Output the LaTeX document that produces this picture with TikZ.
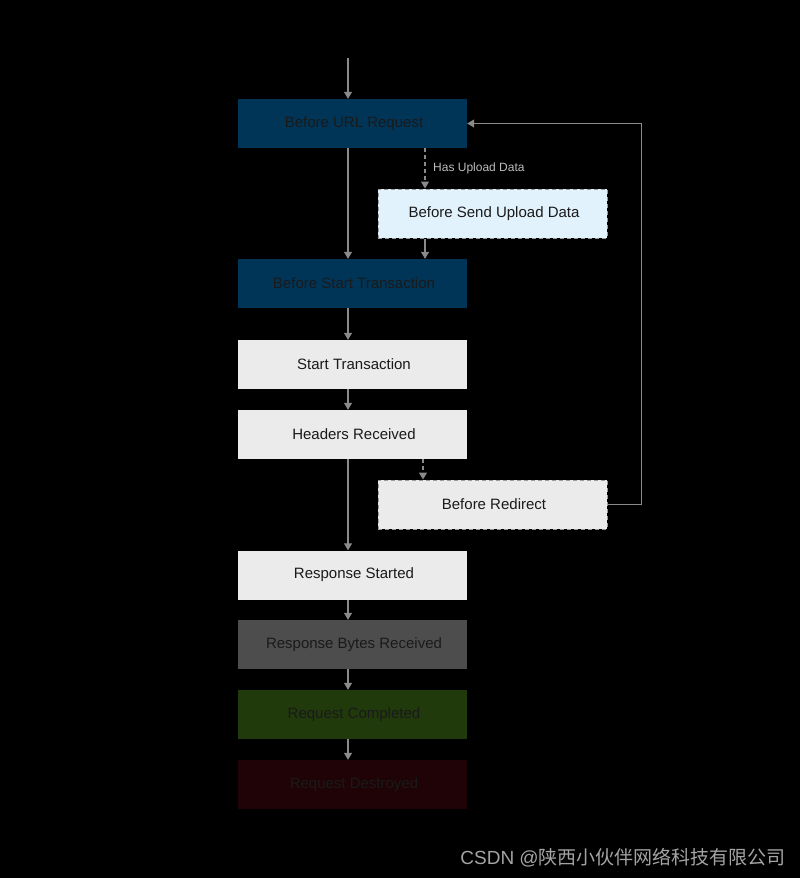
\documentclass[tikz,border=0pt]{standalone}
\usepackage{fontspec}
\setmainfont{Liberation Sans}
\newfontfamily\cjkfont{Noto Sans CJK SC}
\usetikzlibrary{arrows.meta}
\definecolor{dblue}{HTML}{003558}
\definecolor{lblue}{HTML}{E1F2FD}
\definecolor{lgray}{HTML}{EBEBEB}
\definecolor{mgray}{HTML}{4D4D4D}
\definecolor{dgreen}{HTML}{213A0C}
\definecolor{dred}{HTML}{1F0306}
\definecolor{txt}{HTML}{1A1A1A}
\definecolor{linec}{HTML}{8A8A8A}
\definecolor{dashc}{HTML}{9A9A9A}
\tikzset{
  box/.style={minimum width=229pt, minimum height=49pt, inner sep=0pt, text=txt, font=\fontsize{15}{17}\selectfont},
  dbox/.style={box, draw=dashc, dashed, line width=1pt, dash pattern=on 4pt off 3pt},
  arr/.style={draw=linec, line width=1.2pt, -{Triangle[width=8pt,length=7pt]}},
  lbl/.style={text=lgray!80!black, font=\fontsize{12}{14}\selectfont, inner sep=0pt},
}
\begin{document}
\begin{tikzpicture}[x=1pt,y=-1pt]
\fill[black] (0,0) rectangle (800,878);
\useasboundingbox (0,0) rectangle (800,878);
\coordinate (start) at (348,58);
\node[box, fill=dblue] (a) at (352.5,123.5) {\hspace{3pt}Before URL Request};
\node[dbox, fill=lblue] (s) at (492.5,213.5) {\hspace{3pt}Before Send Upload Data};
\node[box, fill=dblue] (b) at (352.5,283.5) {\hspace{3pt}Before Start Transaction};
\node[box, fill=lgray] (c) at (352.5,364.5) {\hspace{3pt}Start Transaction};
\node[box, fill=lgray] (d) at (352.5,434.5) {\hspace{3pt}Headers Received};
\node[dbox, fill=lgray] (r) at (492.5,504.5) {\hspace{3pt}Before Redirect};
\node[box, fill=lgray] (e) at (352.5,575) {\hspace{3pt}Response Started};
\node[box, fill=mgray] (f) at (352.5,644.5) {\hspace{3pt}Response Bytes Received};
\node[box, fill=dgreen] (g) at (352.5,714.5) {\hspace{3pt}Request Completed};
\node[box, fill=dred] (h) at (352.5,784.5) {\hspace{3pt}Request Destroyed};
\node[lbl, anchor=west] (l) at (433,168) {Has Upload Data};
\draw[arr] (start) -- ([xshift=-4.5pt]a.north);
\draw[arr] ([xshift=-4.5pt]a.south) -- ([xshift=-4.5pt]b.north);
\draw[arr, dashed, dash pattern=on 4pt off 3pt] ([xshift=72.5pt]a.south) -- ([xshift=-67.5pt]s.north);
\draw[arr] ([xshift=-67.5pt]s.south) -- ([xshift=72.5pt]b.north);
\draw[arr] ([xshift=-4.5pt]b.south) -- ([xshift=-4.5pt]c.north);
\draw[arr] ([xshift=-4.5pt]c.south) -- ([xshift=-4.5pt]d.north);
\draw[arr, dashed, dash pattern=on 4pt off 3pt] ([xshift=70.5pt]d.south) -- ([xshift=-69.5pt]r.north);
\draw[arr] ([xshift=-4.5pt]d.south) -- ([xshift=-4.5pt]e.north);
\draw[arr] (r.east) -- ++(34,0) |- (a.east);
\draw[arr] ([xshift=-4.5pt]e.south) -- ([xshift=-4.5pt]f.north);
\draw[arr] ([xshift=-4.5pt]f.south) -- ([xshift=-4.5pt]g.north);
\draw[arr] ([xshift=-4.5pt]g.south) -- ([xshift=-4.5pt]h.north);
\node[anchor=east, inner sep=0pt, text=lgray!70!black, font=\fontsize{19}{21}\selectfont] (w) at (786,858) {CSDN @{\cjkfont 陕西小伙伴网络科技有限公司}};
\end{tikzpicture}
\end{document}
